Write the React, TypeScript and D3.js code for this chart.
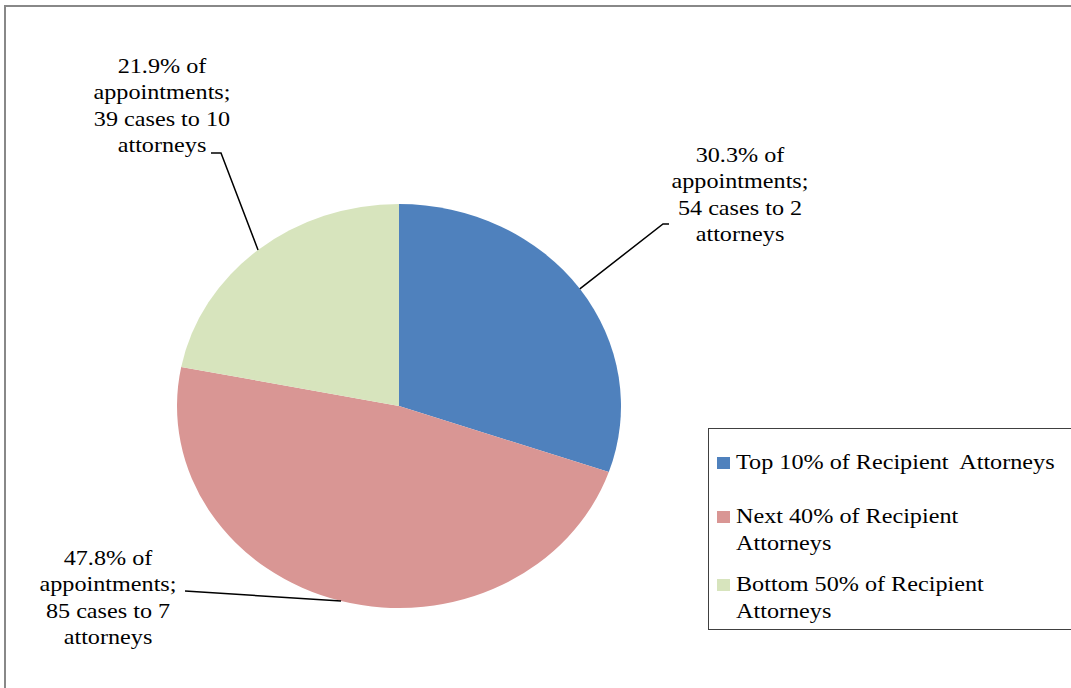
import React from "react";
import * as d3 from "d3";

const categories = ["Top 10% of Recipient Attorneys", "Next 40% of Recipient Attorneys", "Bottom 50% of Recipient Attorneys"];
const legendLines = [["Top 10% of Recipient  Attorneys"], ["Next 40% of Recipient", "Attorneys"], ["Bottom 50% of Recipient", "Attorneys"]];
const shares = [30.3, 47.8, 21.9];
const cases = [54, 85, 39];
const attorneys = [2, 7, 10];
const colors = ["#4F81BD", "#D99694", "#D7E4BD"];

const W = 1071, H = 688;
const cx = 399, cy = 406, rx = 222, ry = 202;
const kx = rx / ry;
const FONT = "Liberation Serif, DejaVu Serif, Times New Roman, serif";
const FS = 22;
const LH = 26.3;

const labelLayout = [
  { x: 740, y: 162, leader: [[669, 224], [663, 224]] },
  { x: 108, y: 565, leader: [[185, 591]] },
  { x: 162, y: 73, leader: [[211, 153], [221, 153]] },
];
const legendLayout = [{ y: 469 }, { y: 523 }, { y: 591 }];

export default function App() {
  const pie = d3.pie<number>().sort(null).value((d) => d)(shares);
  const arc = d3.arc<d3.PieArcDatum<number>>().innerRadius(0).outerRadius(ry);
  const line = d3.line();

  return (
    <div style={{ position: "fixed", left: 0, top: 0, width: W, height: H, background: "#fff" }}>
      <svg width={W} height={H} style={{ display: "block" }}>
        <rect x={0} y={0} width={W} height={H} fill="#fff" />
        <path d={`M5,${H + 5} L5,6 L${W + 5},6`} fill="none" stroke="#888888" strokeWidth={2} />
        <g transform={`translate(${cx},${cy}) scale(${kx},1)`}>
          {pie.map((p, i) => (
            <path key={i} d={arc(p) || ""} fill={colors[i]} />
          ))}
        </g>
        {pie.map((p, i) => {
          const a = (p.startAngle + p.endAngle) / 2;
          const edge: [number, number] = [cx + rx * Math.sin(a), cy - ry * Math.cos(a)];
          const pts = [...labelLayout[i].leader, edge] as [number, number][];
          return <path key={"l" + i} d={line(pts) || ""} fill="none" stroke="#000" strokeWidth={1.5} />;
        })}
        {shares.map((s, i) => {
          const lines = [`${s}% of`, "appointments;", `${cases[i]} cases to ${attorneys[i]}`, "attorneys"];
          const L = labelLayout[i];
          return (
            <g key={"t" + i}>
              {lines.map((t, j) => (
                <text
                  key={j}
                  transform={`translate(${L.x},${L.y + j * LH}) scale(${kx},1)`}
                  textAnchor="middle"
                  fontSize={FS}
                  fontFamily={FONT}
                  fill="#000"
                >
                  {t}
                </text>
              ))}
            </g>
          );
        })}
        <rect x={708.5} y={428.5} width={400} height={201} fill="#fff" stroke="#404040" strokeWidth={1} />
        {categories.map((c, i) => (
          <g key={"lg" + i}>
            <rect x={717} y={legendLayout[i].y - 12} width={13} height={12} fill={colors[i]} />
            {legendLines[i].map((t, j) => (
              <text
                key={j}
                transform={`translate(${736},${legendLayout[i].y + j * 27}) scale(${kx},1)`}
                fontSize={FS}
                fontFamily={FONT}
                fill="#000"
                style={{ whiteSpace: "pre" }}
              >
                {t}
              </text>
            ))}
          </g>
        ))}
      </svg>
    </div>
  );
}
